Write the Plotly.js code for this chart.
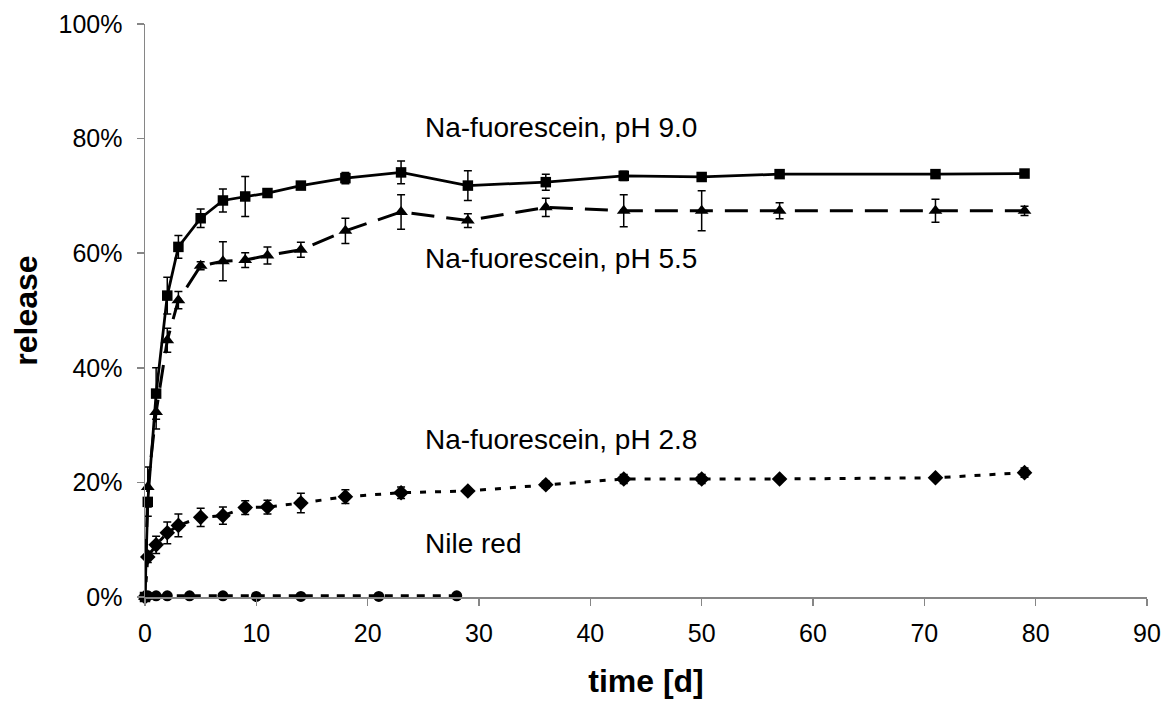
<!DOCTYPE html>
<html>
<head>
<meta charset="utf-8">
<script src="https://cdn.plot.ly/plotly-3.0.1.min.js"></script>
<style>
html, body { margin: 0; padding: 0; background: #fff; }
#chart { width: 1163px; height: 701px; }
</style>
</head>
<body>
<div id="chart"></div>
<script>
// time points [d]
const timeFluo = [0, 0.25, 1, 2, 3, 5, 7, 9, 11, 14, 18, 23, 29, 36, 43, 50, 57, 71, 79];
const timeNile = [0, 0.25, 1, 2, 4, 7, 10, 14, 21, 28];

// release [%]
const releasePH90 = [0, 16.6, 35.5, 52.6, 61.1, 66.1, 69.2, 69.9, 70.5, 71.8, 73.1, 74.1, 71.8, 72.4, 73.5, 73.3, 73.8, 73.8, 73.9];
const errPH90     = [0, 2.5, 4.5, 3.2, 2.0, 1.6, 2.0, 3.5, 0.5, 0.5, 1.0, 2.0, 2.6, 1.4, 0.8, 0.5, 0.5, 0.5, 0.5];

const releasePH55 = [0, 19.2, 32.3, 44.8, 51.8, 57.8, 58.6, 58.8, 59.6, 60.6, 63.9, 67.2, 65.7, 68.0, 67.4, 67.4, 67.4, 67.4, 67.4];
const errPH55     = [0, 3.5, 3.0, 2.1, 1.5, 0.7, 3.4, 1.3, 1.5, 1.3, 2.2, 3.0, 1.2, 1.6, 2.8, 3.5, 1.4, 2.0, 0.8];

const releasePH28 = [0, 7.0, 9.1, 11.2, 12.5, 13.9, 14.2, 15.6, 15.7, 16.4, 17.5, 18.2, 18.5, 19.6, 20.6, 20.6, 20.6, 20.8, 21.7];
const errPH28     = [0, 1.0, 1.5, 1.9, 2.0, 1.6, 1.5, 1.2, 1.2, 1.7, 1.2, 1.0, 0.3, 0.6, 0.8, 0.8, 0.3, 0.3, 0.8];

const releaseNile = [0, 0.2, 0.2, 0.2, 0.2, 0.2, 0.1, 0.1, 0.1, 0.2];

const seriesLabels = ["Na-fuorescein, pH 9.0", "Na-fuorescein, pH 5.5", "Na-fuorescein, pH 2.8", "Nile red"];
const labelX = [25, 25, 25, 25];
const labelY = [82, 59, 27.5, 9.3];

const FONT = "Arial, 'Liberation Sans', sans-serif";

function errBar(arr) {
  return { type: 'data', array: arr, visible: true, color: '#000', thickness: 1.5, width: 4 };
}

const traces = [
  {
    x: timeNile, y: releaseNile, mode: 'lines+markers', cliponaxis: false,
    line: { color: '#000', width: 3, dash: '8px,8px' },
    marker: { symbol: 'circle', size: 11, color: '#000' }
  },
  {
    x: timeFluo, y: releasePH28, mode: 'lines+markers', cliponaxis: false,
    line: { color: '#000', width: 3, dash: '6px,9px' },
    marker: { symbol: 'diamond', size: 12, color: '#000' },
    error_y: errBar(errPH28)
  },
  {
    x: timeFluo, y: releasePH55, mode: 'lines+markers', cliponaxis: false,
    line: { color: '#000', width: 3, dash: '23px,12px' },
    marker: { symbol: 'triangle-up', size: 12, color: '#000' },
    error_y: errBar(errPH55)
  },
  {
    x: timeFluo, y: releasePH90, mode: 'lines+markers', cliponaxis: false,
    line: { color: '#000', width: 2.75 },
    marker: { symbol: 'square', size: 10.5, color: '#000' },
    error_y: errBar(errPH90)
  }
];

const annotations = seriesLabels.map((t, i) => ({
  text: t, x: labelX[i], y: labelY[i], xref: 'x', yref: 'y',
  xanchor: 'left', yanchor: 'middle', showarrow: false,
  font: { family: FONT, size: 28, color: '#000' }
}));

const layout = {
  width: 1163, height: 701,
  margin: { l: 144.5, r: 16, t: 24, b: 104, pad: 0 },
  paper_bgcolor: '#fff', plot_bgcolor: '#fff',
  showlegend: false,
  font: { family: FONT, color: '#000' },
  xaxis: {
    range: [0, 90], dtick: 10, tick0: 0,
    showgrid: false, zeroline: false,
    showline: true, linecolor: '#868686', linewidth: 1.5,
    ticks: 'outside', ticklen: 7, tickcolor: '#868686', tickwidth: 1.5,
    ticklabelstandoff: 6,
    tickfont: { family: FONT, size: 25, color: '#000' },
    title: { text: 'time [d]', font: { family: FONT, size: 32, color: '#000', weight: 'bold' }, standoff: 24 }
  },
  yaxis: {
    range: [0, 100], dtick: 20, tick0: 0, ticksuffix: '%',
    showgrid: false, zeroline: false,
    showline: true, linecolor: '#868686', linewidth: 1.5,
    ticks: 'outside', ticklen: 7, tickcolor: '#868686', tickwidth: 1.5,
    ticklabelstandoff: 9,
    tickfont: { family: FONT, size: 25, color: '#000' },
    title: { text: 'release', font: { family: FONT, size: 32, color: '#000', weight: 'bold' }, standoff: 11 }
  },
  annotations: annotations
};

Plotly.newPlot('chart', traces, layout, { staticPlot: true, displayModeBar: false });
</script>
</body>
</html>
